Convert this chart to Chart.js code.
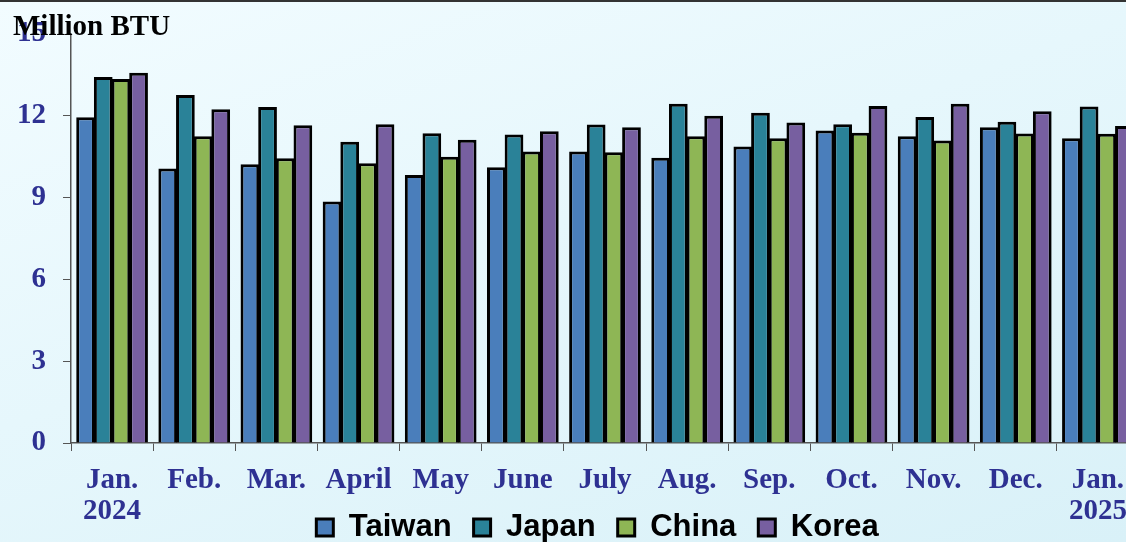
<!DOCTYPE html>
<html>
<head>
<meta charset="utf-8">
<script src="https://cdn.jsdelivr.net/npm/chart.js@4"></script>
<style>
  html, body { margin: 0; padding: 0; width: 1126px; height: 542px; overflow: hidden; }
  body {
    background: linear-gradient(160deg, #f2fcff 0%, #e6f7fc 45%, #d9f1f8 100%);
    position: relative;
  }
  #frame { position: absolute; left: 0; top: 0; width: 1126px; height: 2px; background: #333; }
  #wrap { position: absolute; left: 0; top: 0; width: 1194px; height: 542px; }
</style>
</head>
<body>
<div id="frame"></div>
<div id="wrap"><canvas id="chart"></canvas></div>
<script>
// Monthly LNG import price by country (Million BTU)
const months = [['Jan.', '2024'], 'Feb.', 'Mar.', 'April', 'May', 'June', 'July',
                'Aug.', 'Sep.', 'Oct.', 'Nov.', 'Dec.', ['Jan.', '2025']];
const taiwan = [11.95, 10.07, 10.22, 8.86, 9.83, 10.11, 10.69, 10.46, 10.87, 11.46, 11.25, 11.58, 11.18];
const japan  = [13.42, 12.76, 12.32, 11.05, 11.36, 11.31, 11.68, 12.44, 12.11, 11.69, 11.96, 11.78, 12.34];
const china  = [13.35, 11.25, 10.44, 10.26, 10.50, 10.69, 10.66, 11.25, 11.18, 11.38, 11.09, 11.35, 11.34];
const korea  = [13.58, 12.24, 11.65, 11.69, 11.12, 11.43, 11.58, 12.00, 11.75, 12.36, 12.44, 12.17, 11.63];
const yTicks = [0, 3, 6, 9, 12, 15];

const tickColor = '#2e3192';
const serifBold = { family: '"Liberation Serif", "Times New Roman", serif', size: 29, weight: 'bold', lineHeight: 1.07 };

function series(label, data, color) {
    return {
        label: label,
        data: data,
        backgroundColor: color,
        borderColor: '#000',
        borderWidth: 3,
        borderSkipped: 'bottom',
        categoryPercentage: 0.86,
        barPercentage: 1.06
    };
}

// unit label in the top-left corner, plus small layout tweaks:
// the x labels may run under the legend, and the legend is centred on the page
const pageTweaks = {
    id: 'pageTweaks',
    afterLayout(chart) {
        chart.scales.x.bottom = chart.height;
        const lg = chart.legend;
        lg.left += 28;
        lg.right += 28;
    },
    afterDraw(chart) {
        const ctx = chart.ctx;
        ctx.save();
        ctx.font = 'bold 29px "Liberation Serif", "Times New Roman", serif';
        ctx.fillStyle = '#000';
        ctx.textBaseline = 'middle';
        ctx.fillText('Million BTU', 13, 28);
        ctx.restore();
    }
};

new Chart(document.getElementById('chart'), {
    type: 'bar',
    data: {
        labels: months,
        datasets: [
            series('Taiwan', taiwan, '#4a7ebb'),
            series('Japan', japan, '#2a8298'),
            series('China', china, '#8eb655'),
            series('Korea', korea, '#775fa0')
        ]
    },
    options: {
        responsive: true,
        maintainAspectRatio: false,
        animation: false,
        layout: { padding: { left: 0, right: 55, top: 34, bottom: -11 } },
        plugins: {
            legend: {
                position: 'bottom',
                labels: {
                    boxWidth: 17,
                    boxHeight: 17,
                    padding: 22,
                    color: '#000',
                    font: { family: '"Liberation Sans", Arial, sans-serif', size: 31, weight: 'bold' }
                }
            },
            tooltip: { enabled: false }
        },
        scales: {
            x: {
                afterFit: scale => { scale.height = 47; },
                grid: { display: true, drawOnChartArea: false, color: '#555', tickLength: 8 },
                border: { color: '#555', width: 1.5 },
                ticks: { color: tickColor, font: serifBold, maxRotation: 0, autoSkip: false, padding: 14 }
            },
            y: {
                min: 0,
                max: 15,
                afterBuildTicks: axis => { axis.ticks = yTicks.map(v => ({ value: v })); },
                grid: { display: true, drawOnChartArea: false, color: '#555', tickLength: 8 },
                border: { color: '#555', width: 1.5 },
                ticks: { color: tickColor, font: serifBold, padding: 17 }
            }
        }
    },
    plugins: [pageTweaks]
});
</script>
</body>
</html>
